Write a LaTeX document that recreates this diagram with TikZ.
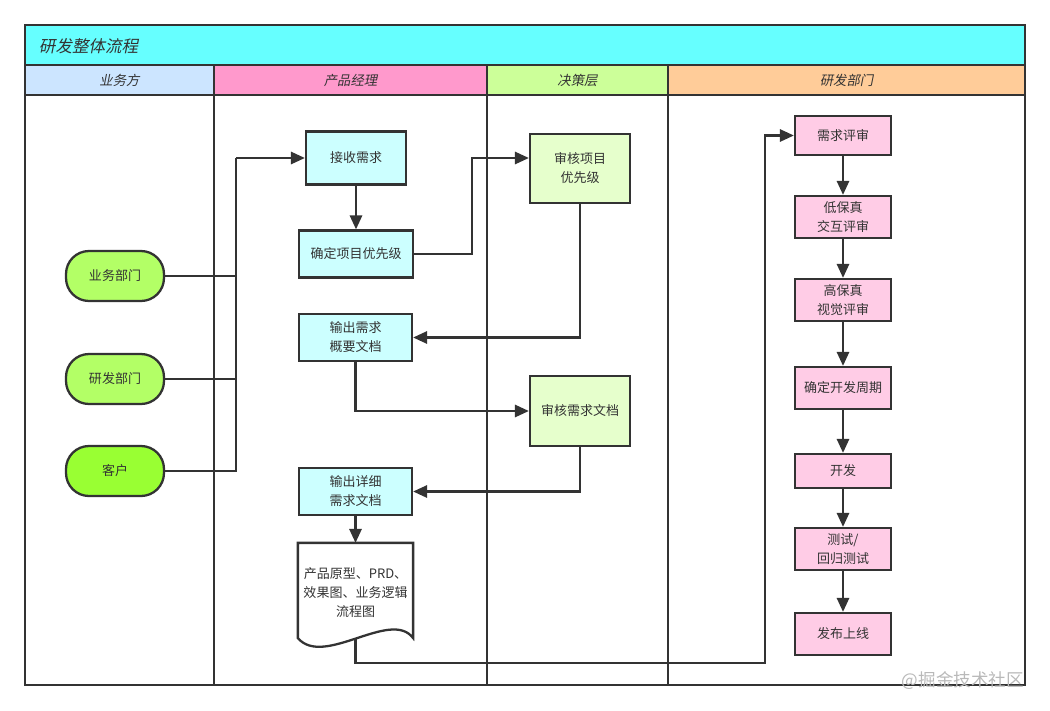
\documentclass[tikz,border=0pt]{standalone}
\usepackage{fontspec}
\setmainfont{Noto Sans CJK SC}
\newfontfamily\slantcjk[FakeSlant=0.2]{Noto Sans CJK SC}
\usetikzlibrary{arrows.meta,positioning}

\definecolor{ln}{HTML}{333333}
\definecolor{titlebg}{HTML}{66FFFF}
\definecolor{hdbiz}{HTML}{CCE5FF}
\definecolor{hdpm}{HTML}{FF99CC}
\definecolor{hddec}{HTML}{CCFF99}
\definecolor{hddev}{HTML}{FFCC99}
\definecolor{pmbox}{HTML}{CCFFFF}
\definecolor{decbox}{HTML}{E6FFCC}
\definecolor{devbox}{HTML}{FFCCE6}
\definecolor{termA}{HTML}{B3FF66}
\definecolor{termB}{HTML}{99FF33}

\begin{document}
\begin{tikzpicture}[x=0.02cm,y=-0.02cm,>={Triangle[length=8pt,width=7pt]},line width=1.3pt,
    every node/.append style={align=center,text=ln,font=\fontsize{7.4}{10.8}\selectfont},
    proc/.style={draw=ln,fill=#1,inner sep=1pt},
    term/.style={draw=ln,fill=#1,rounded corners=0.46cm,minimum width=1.96cm,minimum height=1cm},
    hdtext/.style={font=\slantcjk\fontsize{7.6}{9}\selectfont},
    flow/.style={draw=ln,line width=1.3pt,->}]
    \useasboundingbox (0,0) rectangle (1050,710);
    % title bar and lane headers
    \fill[titlebg] (25,25) rectangle (1025,65);
    \fill[hdbiz] (25,65) rectangle (214,95);
    \fill[hdpm] (214,65) rectangle (487,95);
    \fill[hddec] (487,65) rectangle (668,95);
    \fill[hddev] (668,65) rectangle (1025,95);
    \node[anchor=west,font=\slantcjk\fontsize{9.4}{11}\selectfont] (title) at (32,46) {研发整体流程};
    \node[hdtext] (hbiz) at (119.5,80) {业务方};
    \node[hdtext] (hpm) at (350.5,80) {产品经理};
    \node[hdtext] (hdec) at (577.5,80) {决策层};
    \node[hdtext] (hdev) at (846.5,80) {研发部门};
    \draw[ln] (25,25) rectangle (1025,685) (25,65) -- (1025,65) (25,95) -- (1025,95);
    \foreach \x in {214,487,668} \draw[ln] (\x,65) -- (\x,685);

    % business side
    \node [term=termA] (ywbm) at (115,276) {业务部门};
    \node [term=termA] (yfbm) at (115,379) {研发部门};
    \node [term=termB] (kh)   at (115,471) {客户};

    % product manager
    \node [proc=pmbox, minimum width=2cm, minimum height=1.06cm] (jssq) at (356,158) {接收需求};
    \node [proc=pmbox, minimum width=2.28cm, minimum height=0.94cm] (qdxm) at (356,254) {确定项目优先级};
    \node [proc=pmbox, minimum width=2.26cm, minimum height=0.94cm] (scgy) at (355.5,337.5) {输出需求\\概要文档};
    \node [proc=pmbox, minimum width=2.26cm, minimum height=0.94cm] (scxx) at (355.5,491.5) {输出详细\\需求文档};
    \node [minimum width=2.26cm, minimum height=1.86cm] (doc) at (355.5,590.5) {};
    \fill[white] (doc.north west) -- (doc.north east) -- (doc.south east)
        .. controls +(-22,-30) and +(26,30) .. (doc.south west) -- cycle;
    \draw[ln] (doc.north west) -- (doc.north east) -- (doc.south east)
        .. controls +(-22,-30) and +(26,30) .. (doc.south west) -- cycle;
    \node (doctext) at (355.5,593) {产品原型、PRD、\\效果图、业务逻辑\\流程图};

    % decision layer
    \node [proc=decbox, minimum width=2cm, minimum height=1.38cm] (shxm) at (580,168.5) {审核项目\\优先级};
    \node [proc=decbox, minimum width=2cm, minimum height=1.4cm] (shxq) at (580,411) {审核需求文档};

    % development
    \node [proc=devbox, minimum width=1.92cm, minimum height=0.78cm] (xqps) at (843,135.5) {需求评审};
    \node [proc=devbox, minimum width=1.92cm, minimum height=0.84cm] (dbz)  at (843,217) {低保真\\交互评审};
    \node [proc=devbox, minimum width=1.92cm, minimum height=0.84cm] (gbz)  at (843,300) {高保真\\视觉评审};
    \node [proc=devbox, minimum width=1.92cm, minimum height=0.84cm] (kfzq) at (843,388) {确定开发周期};
    \node [proc=devbox, minimum width=1.92cm, minimum height=0.68cm] (kf)   at (843,471) {开发};
    \node [proc=devbox, minimum width=1.92cm, minimum height=0.84cm] (cs)   at (843,549) {测试/\\回归测试};
    \node [proc=devbox, minimum width=1.92cm, minimum height=0.84cm] (fb)   at (843,634) {发布上线};

    \node [anchor=east,text=gray!55,font=\fontsize{10}{12}\selectfont] (mark) at (1031,681) {@掘金技术社区};

    % connectors
    \coordinate (hub) at (236,158);
    \coordinate (ret) at (765,663);
    \draw[ln] (ywbm.east) -| (hub) (yfbm.east) -| (hub) (kh.east) -| (hub);
    \draw[flow] (hub) -- (jssq.west);
    \draw[flow] (jssq) -- (qdxm);
    \draw[flow] (qdxm.east) -- ++(58,0) |- (shxm.west |- jssq);
    \draw[flow] (shxm.south) |- (scgy.east);
    \draw[flow] (scgy.south) |- (shxq.west);
    \draw[flow] (shxq.south) |- (scxx.east);
    \draw[flow] (scxx) -- (doc.north);
    \draw[flow] (doc.south) |- (ret) |- (xqps.west);
    \foreach \a/\b in {xqps/dbz,dbz/gbz,gbz/kfzq,kfzq/kf,kf/cs,cs/fb}
        \draw[flow] (\a) -- (\b);
\end{tikzpicture}
\end{document}
